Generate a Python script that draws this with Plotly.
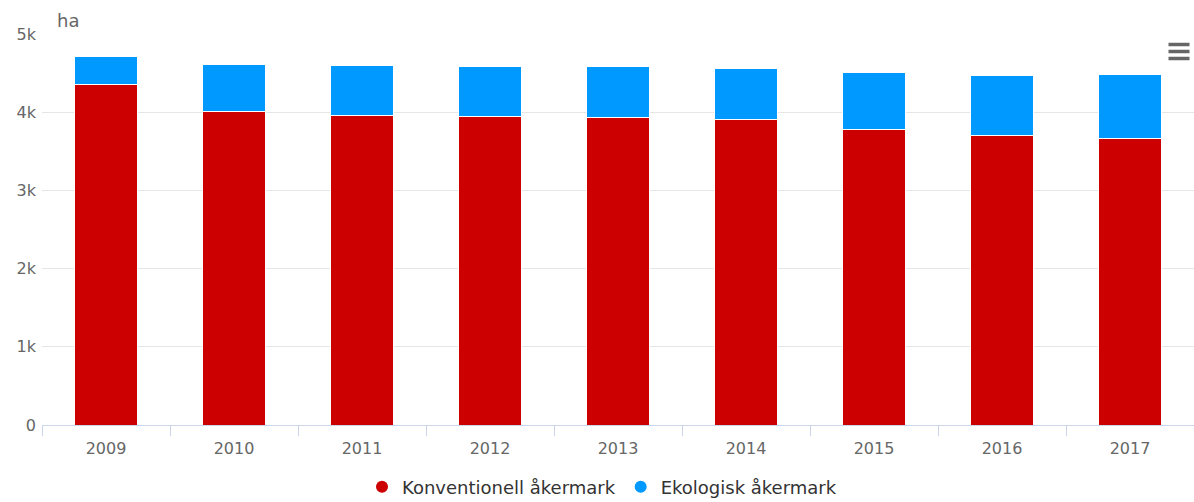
import plotly.graph_objects as go

years = ["2009", "2010", "2011", "2012", "2013", "2014", "2015", "2016", "2017"]
konventionell = [4352, 4015, 3960, 3942, 3926, 3909, 3776, 3700, 3661]
ekologisk = [354, 601, 640, 640, 656, 652, 729, 772, 827]
y_tickvals = [0, 1000, 2000, 3000, 4000, 5000]
y_ticktext = ["0", "1k", "2k", "3k", "4k", "5k"]

RED = "#cc0000"
BLUE = "#0099ff"
FONT = "DejaVu Sans"

fig = go.Figure()
fig.add_trace(go.Bar(x=years, y=konventionell, name="Konventionell åkermark",
                     marker=dict(color=RED, line=dict(color="#ffffff", width=1)),
                     showlegend=False, hoverinfo="x+y"))
fig.add_trace(go.Bar(x=years, y=ekologisk, name="Ekologisk åkermark",
                     marker=dict(color=BLUE, line=dict(color="#ffffff", width=1)),
                     showlegend=False, hoverinfo="x+y"))
# legend entries with circle symbols
fig.add_trace(go.Scatter(x=[None], y=[None], mode="markers", name="Konventionell åkermark",
                         marker=dict(color=RED, size=12, symbol="circle")))
fig.add_trace(go.Scatter(x=[None], y=[None], mode="markers", name="Ekologisk åkermark",
                         marker=dict(color=BLUE, size=12, symbol="circle")))

L, R, T, B = 42, 0, 34, 77
W, H = 1194, 502
pw = W - L - R
ph = H - T - B

def px(xp):
    return (xp - L) / pw

def py(yp):
    return (H - B - yp) / ph

shapes = []
for yy in (44.5, 51.5, 58.5):
    shapes.append(dict(type="line", xref="paper", yref="paper",
                       x0=px(1168.5), x1=px(1189.5), y0=py(yy), y1=py(yy),
                       line=dict(color="#666666", width=3.5)))

fig.update_layout(
    width=W, height=H,
    margin=dict(l=L, r=R, t=T, b=B, autoexpand=False),
    barmode="stack",
    bargap=0.51,
    plot_bgcolor="#ffffff",
    paper_bgcolor="#ffffff",
    font=dict(family=FONT, color="#666666", size=16),
    xaxis=dict(
        type="category",
        tickson="boundaries",
        ticks="outside", ticklen=10, tickcolor="#ccd6eb", tickwidth=1,
        showline=True, linecolor="#ccd6eb", linewidth=1,
        showgrid=False,
        ticklabelstandoff=9,
        tickfont=dict(family=FONT, size=16, color="#666666"),
        fixedrange=True,
    ),
    yaxis=dict(
        range=[0, 5000],
        tickvals=y_tickvals, ticktext=y_ticktext,
        showgrid=True, gridcolor="#e6e6e6", gridwidth=1,
        zeroline=False,
        ticks="", ticklabelstandoff=5,
        tickfont=dict(family=FONT, size=16, color="#666666"),
        fixedrange=True,
    ),
    legend=dict(orientation="h", x=px(602), xanchor="center",
                yref="container", y=1 - 487 / H, yanchor="middle",
                font=dict(family=FONT, size=18, color="#333333"),
                itemsizing="constant", itemwidth=30, traceorder="normal"),
    annotations=[dict(text="ha", xref="paper", yref="paper", x=px(55), y=py(21),
                      xanchor="left", yanchor="middle", showarrow=False,
                      font=dict(family=FONT, size=18, color="#666666"))],
    shapes=shapes,
)

fig.write_html("out.html", config={"displayModeBar": False})

with open("out.html", "r", encoding="utf-8") as f:
    html = f.read()
html = html.replace("<body>", "<body style=\"margin:0;padding:0;overflow:hidden\">", 1)
with open("out.html", "w", encoding="utf-8") as f:
    f.write(html)
